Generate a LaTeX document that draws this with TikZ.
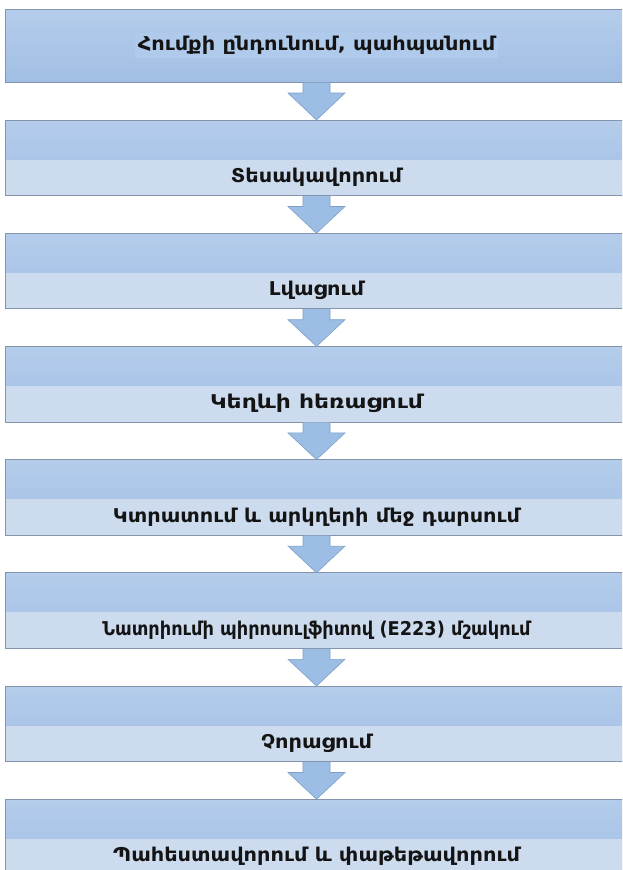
\documentclass[tikz,border=0pt]{standalone}
\usepackage{fontspec}
\setmainfont{DejaVu Sans}[FakeStretch=1.1]
\usetikzlibrary{calc}
\definecolor{boxtop}{HTML}{B4CDEB}
\definecolor{boxbot}{HTML}{A1BEE4}
\definecolor{stripfill}{HTML}{CCDCEE}
\definecolor{edgecol}{HTML}{8394AC}
\definecolor{arrfill}{HTML}{9CBEE5}
\definecolor{arredge}{HTML}{7E9FC9}
\definecolor{txtbg}{HTML}{AFCAEA}
\begin{document}
\begin{tikzpicture}[x=1pt,y=-1pt,
  stepbox/.style={rectangle, draw=edgecol, line width=0.8pt, top color=boxtop, bottom color=boxbot,
    minimum width=623pt, inner sep=0pt, outer sep=0pt},
  steptext/.style={font=\bfseries\fontsize{19}{22}\selectfont, text=black!92},
  stripbox/.style={rectangle, fill=stripfill, minimum width=622pt, minimum height=35.5pt,
    inner sep=0pt, outer sep=0pt, steptext},
  flowarrow/.style={fill=arrfill, draw=arredge, line width=0.6pt, line join=miter}]
\useasboundingbox (0,0) rectangle (622,870);
\clip (0,0) rectangle (622,870);
% first box
\node[stepbox, minimum height=73pt] (b1) at (316.5,45.5) {};
\node[fill=txtbg, inner sep=3pt, steptext] (t1) at (b1.center) {Հումքի ընդունում, պահպանում};
% other boxes
\foreach \k/\txt in {2/Տեսակավորում, 3/Լվացում, 4/\scalebox{1.12}[1]{Կեղևի հեռացում}, 5/Կտրատում և արկղերի մեջ դարսում,
  6/\scalebox{0.85}[1]{Նատրիումի պիրոսուլֆիտով (E223) մշակում}, 7/Չորացում, 8/Պահեստավորում և փաթեթավորում}{
  \pgfmathsetmacro{\ctr}{120+113.2*(\k-2)+37.75}
  \node[stepbox, minimum height=75.5pt] (b\k) at (316.5,\ctr) {};
  \node[stripbox, anchor=south] (t\k) at ($(b\k.south)+(0,-0.4)$) {\txt};
}
% arrows
\foreach \a/\b in {1/2,2/3,3/4,4/5,5/6,6/7,7/8}{
  \draw[flowarrow] ($(b\a.south)+(-13.5,0.5)$) -- ($(b\a.south)+(-13.5,11)$) -- ($(b\a.south)+(-28.5,11)$)
    -- (b\b.north) -- ($(b\a.south)+(28.5,11)$) -- ($(b\a.south)+(13.5,11)$) -- ($(b\a.south)+(13.5,0.5)$);
}
\end{tikzpicture}
\end{document}
